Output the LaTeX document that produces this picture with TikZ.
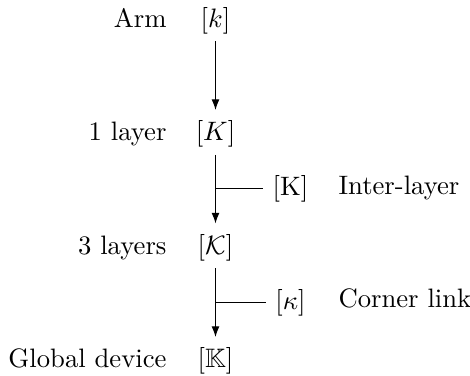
\documentclass[tikz,border=0pt]{standalone}
\usepackage{amssymb}
\usetikzlibrary{arrows.meta}
\begin{document}
\begin{tikzpicture}[x=0.375pt,y=-0.375pt,
  lbl/.style={inner sep=0pt, anchor=base east},
  obj/.style={anchor=base},
  side/.style={},
  note/.style={inner sep=0pt, anchor=base west},
  arr/.style={-{Latex[length=4pt,width=3pt]}, line width=0.45pt, shorten <=-0.8pt, shorten >=0.6pt},
  branch/.style={line width=0.45pt}]
\useasboundingbox (0,0) rectangle (470,376);
% left labels
\node[lbl] (larm) at (167,27.5) {Arm};
\node[lbl] (lone) at (167,141) {1 layer};
\node[lbl] (lthree) at (167,254.5) {3 layers};
\node[lbl] (lglob) at (167,368) {Global device};
% column objects
\node[obj] (k) at (215.5,27.5) {$[k]$};
\node[obj] (K) at (215.5,141) {$[K]$};
\node[obj] (cK) at (215.5,254.5) {$[\mathcal{K}]$};
\node[obj] (bK) at (215.5,368) {$[\mathbb{K}]$};
% arrows
\draw[arr] (k) -- (K);
\draw[arr] (K) -- (cK);
\draw[arr] (cK) -- (bK);
% branches
\coordinate (m1) at (215.5,188.6);
\coordinate (m2) at (215.5,302.6);
\node[side] (rK) at (290.5,188.6) {$[\mathrm{K}]$};
\node[side] (rk) at (290.5,302.6) {$[\kappa]$};
\draw[branch] (m1) -- (rK);
\draw[branch] (m2) -- (rk);
\node[note] (tIL) at (338,194.2) {Inter-layer};
\node[note] (tCL) at (338,307.7) {Corner link};
\end{tikzpicture}
\end{document}
